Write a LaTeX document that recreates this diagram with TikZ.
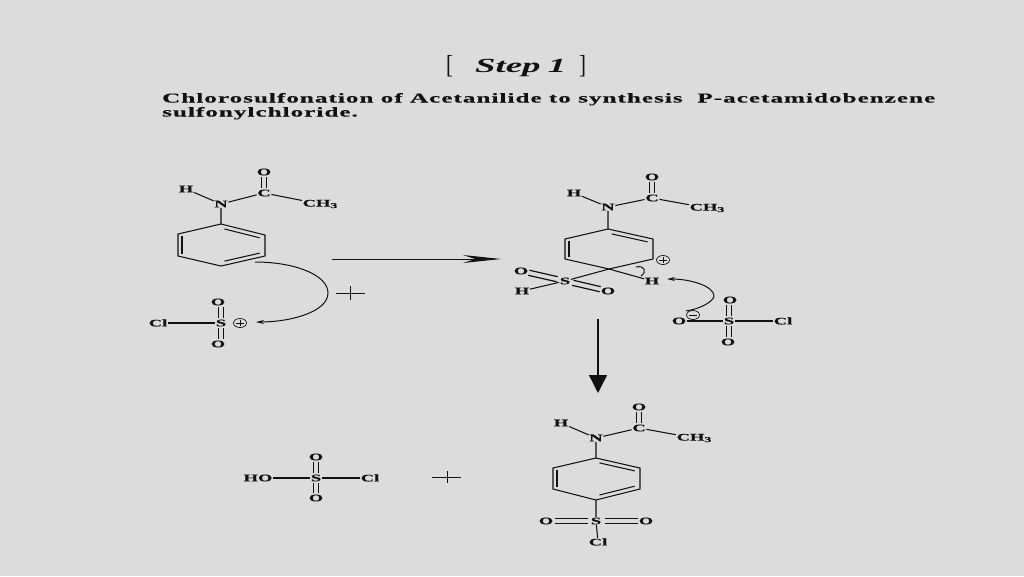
\documentclass[tikz,border=0pt]{standalone}
\usepackage{fontspec}
\usepackage{graphicx}
\setmainfont[BoldFeatures={FakeBold=0.3}]{Liberation Serif}
\usetikzlibrary{calc,arrows.meta}
\definecolor{bg}{HTML}{DCDCDC}
\definecolor{ink}{HTML}{111111}
\newcommand{\A}[1]{\scalebox{1.85}[1]{\bfseries\fontsize{10}{10}\selectfont #1}}
\newcommand{\Me}{\A{CH\raisebox{-1.5pt}{\fontsize{7.5}{7}\selectfont 3}}}
\newcommand{\Circ}[1]{\tikz[baseline=-2.5pt]{\draw[line width=.7pt,ink] (0,0) ellipse (6.5pt and 4.5pt);\draw[line width=.9pt,ink] (-4pt,0)--(4pt,0);\ifnum#1=1 \draw[line width=.9pt,ink] (0,-3.2pt)--(0,3.2pt);\fi}}
\newcommand{\InnerBond}[3][4]{\draw[bond] ($(#2)!0.1!(#3)!#1pt!90:(#3)$) -- ($(#3)!0.1!(#2)!#1pt!-90:(#2)$);}
% #1 = trim at each end, #2,#3 = coordinates (centres of the two atoms)
\newcommand{\DoubleBond}[3][5]{\draw[bond,line width=1.2pt,shorten <=#1pt,shorten >=#1pt] ($(#2)!2.6pt!90:(#3)$) -- ($(#3)!2.6pt!-90:(#2)$);\draw[bond,line width=1.2pt,shorten <=#1pt,shorten >=#1pt] ($(#2)!2.6pt!-90:(#3)$) -- ($(#3)!2.6pt!90:(#2)$);}
\newcommand{\Ring}[1]{%
 \draw[bond,line join=miter] (#1a)--(#1b)--(#1c)--(#1d)--(#1e)--(#1f)--cycle;
 \InnerBond{#1b}{#1a}\InnerBond{#1d}{#1c}\InnerBond{#1f}{#1e}}
\tikzset{
 atom/.style={inner sep=.5pt,text=ink,font=\normalsize},
 bond/.style={line width=1.05pt,draw=ink},
 curved/.style={line width=1pt,draw=ink,-{Stealth[length=8pt,width=4pt]}},
 plusline/.style={line width=1pt,draw=ink},
 chargemark/.style={inner sep=0pt},
 headtext/.style={inner sep=0pt,anchor=base west,text=ink},
}
\begin{document}
\begin{tikzpicture}[x=1pt,y=-1pt]
\fill[bg] (0,0) rectangle (1024,576);
\useasboundingbox (0,0) rectangle (1024,576);
% heading
\node[headtext] (lb) at (446,73) {\fontsize{26}{26}\selectfont\scalebox{.8}[1]{[}};
\node[headtext] (st) at (475,72) {\scalebox{1.84}[1]{\bfseries\itshape\fontsize{20}{20}\selectfont Step\hspace{4pt}1}};
\node[headtext] (rb) at (579,73) {\fontsize{26}{26}\selectfont\scalebox{.8}[1]{]}};
\node[headtext] (l1) at (162,102.5) {\scalebox{1.863}[1]{\bfseries\fontsize{13.5}{14}\addfontfeature{LetterSpace=4}\selectfont Chlorosulfonation of Acetanilide to synthesis\hspace{4pt} P-acetamidobenzene}};
\node[headtext] (l2) at (162,116.5) {\scalebox{1.863}[1]{\bfseries\fontsize{13.5}{14}\addfontfeature{LetterSpace=4}\selectfont sulfonylchloride.}};
% molecule 1
\node[atom] (aO) at (264,172) {\A{O}};
\node[atom] (aC) at (264,193) {\A{C}};
\node[atom] (aN) at (221,204) {\A{N}};
\node[atom] (aH) at (186,189) {\A{H}};
\node[atom] (aM) at (320,204) {\Me};
\coordinate (Aa) at (221,224);\coordinate (Ab) at (265,235);\coordinate (Ac) at (265,256);
\coordinate (Ad) at (221,266);\coordinate (Ae) at (178,256);\coordinate (Af) at (178,234);
\DoubleBond{aC}{aO}
\draw[bond] (aH)--(aN) (aN)--(aC) (aC)--(aM) (aN)--(Aa);
\Ring{A}
\node[atom] (bCl) at (158,323) {\A{Cl}};
\node[atom] (bS) at (221,323) {\A{S}};
\node[atom] (bO1) at (218,302) {\A{O}};
\node[atom] (bO2) at (218,344) {\A{O}};
\coordinate (bO1t) at (bS|-bO1);\coordinate (bO2t) at (bS|-bO2);
\node[chargemark] (bP) at (240,323) {\Circ{1}};
\draw[bond] (bCl)--(bS);
\DoubleBond{bS}{bO1t}\DoubleBond{bS}{bO2t}
\coordinate (c1s) at (255,262);\coordinate (c1e) at (256,322);\coordinate (c1m) at (328,293);
\draw[curved] (c1s) .. controls (295,262) and (328,275) .. (c1m) .. controls (328,312) and (290,322) .. (c1e);
\coordinate (p1a) at (336,293);\coordinate (p1b) at (365,293);\coordinate (p1c) at (350,286);\coordinate (p1d) at (350,300);
\draw[plusline] (p1a)--(p1b) (p1c)--(p1d);
% arrow 1
\coordinate (ar1s) at (332,259);\coordinate (ar1e) at (501,259);
\draw[line width=1pt,draw=ink,-{Stealth[length=38pt,width=8pt]}] (ar1s)--(ar1e);
% molecule 2
\node[atom] (cO) at (652,177) {\A{O}};
\node[atom] (cC) at (652,198) {\A{C}};
\node[atom] (cN) at (608,207) {\A{N}};
\node[atom] (cH) at (574,193) {\A{H}};
\node[atom] (cM) at (707,208) {\Me};
\coordinate (Ba) at (608,229);\coordinate (Bb) at (653,239);\coordinate (Bc) at (653,259);
\coordinate (Bd) at (609,269);\coordinate (Be) at (565,259);\coordinate (Bf) at (565,239);
\DoubleBond{cC}{cO}
\draw[bond] (cH)--(cN) (cN)--(cC) (cC)--(cM) (cN)--(Ba);
\draw[bond,line join=miter] (Bd)--(Be)--(Bf)--(Ba)--(Bb)--(Bc)--(Bd);
\InnerBond{Bb}{Ba}\InnerBond{Bf}{Be}
\node[chargemark] (cP) at (663,260) {\Circ{1}};
\node[atom] (dH) at (652,281) {\A{H}};
\node[atom] (dS) at (565,281) {\A{S}};
\node[atom] (dO1) at (521,271) {\A{O}};
\node[atom] (dH2) at (522,291) {\A{H}};
\node[atom] (dO2) at (608,291) {\A{O}};
\draw[bond] (Bd)--(dH) (Bd)--(dS) (dS)--(dH2);
\DoubleBond[8]{dS}{dO1}\DoubleBond[8]{dS}{dO2}
\coordinate (c2a) at (636,267);\coordinate (c2b) at (641,276);
\draw[line width=1pt,draw=ink] (c2a) .. controls (645,265) and (647,272) .. (c2b);
\node[atom] (eO) at (679,321) {\A{O}};
\node[chargemark] (eM) at (693,315) {\Circ{0}};
\node[atom] (eS) at (729,321) {\A{S}};
\node[atom] (eO1) at (730,300) {\A{O}};
\node[atom] (eO2) at (728,342) {\A{O}};
\coordinate (eO1t) at (eS|-eO1);\coordinate (eO2t) at (eS|-eO2);
\node[atom] (eCl) at (783,321) {\A{Cl}};
\draw[bond] (eO)--(eS) (eS)--(eCl);
\DoubleBond{eS}{eO1t}\DoubleBond{eS}{eO2t}
\coordinate (c3s) at (686,311);\coordinate (c3e) at (667,279);
\draw[curved] (c3s) .. controls (704,308) and (714,300) .. (714,296) .. controls (714,286) and (690,279) .. (c3e);
% arrow 2
\coordinate (ar2s) at (598,319);\coordinate (ar2e) at (598,393);
\draw[line width=1.4pt,draw=ink,-{Stealth[length=18pt,width=18pt,inset=0pt]}] (ar2s)--(ar2e);
% molecule 3
\node[atom] (fO) at (639,407) {\A{O}};
\node[atom] (fC) at (639,428) {\A{C}};
\node[atom] (fN) at (596,438) {\A{N}};
\node[atom] (fH) at (561,423) {\A{H}};
\node[atom] (fM) at (694,438) {\Me};
\coordinate (Ca) at (596,458);\coordinate (Cb) at (640,468);\coordinate (Cc) at (640,489);
\coordinate (Cd) at (596,500);\coordinate (Ce) at (553,489);\coordinate (Cf) at (553,468);
\DoubleBond{fC}{fO}
\draw[bond] (fH)--(fN) (fN)--(fC) (fC)--(fM) (fN)--(Ca);
\Ring{C}
\node[atom] (gS) at (596,521) {\A{S}};
\node[atom] (gO1) at (546,521) {\A{O}};
\node[atom] (gO2) at (646,521) {\A{O}};
\node[atom] (gCl) at (598,542) {\A{Cl}};
\draw[bond] (Cd)--(gS) (gS)--(gCl);
\DoubleBond[8.5]{gS}{gO1}\DoubleBond[8.5]{gS}{gO2}
% molecule 4
\node[atom] (hO1) at (316,457) {\A{O}};
\node[atom] (hS) at (316,478) {\A{S}};
\node[atom] (hO2) at (316,498) {\A{O}};
\node[atom] (hHO) at (258,478) {\A{HO}};
\node[atom] (hCl) at (370,478) {\A{Cl}};
\draw[bond] (hHO)--(hS) (hS)--(hCl);
\DoubleBond{hS}{hO1}\DoubleBond{hS}{hO2}
\coordinate (p2a) at (432,477);\coordinate (p2b) at (461,477);\coordinate (p2c) at (447,471);\coordinate (p2d) at (447,483);
\draw[plusline] (p2a)--(p2b) (p2c)--(p2d);
\end{tikzpicture}
\end{document}
